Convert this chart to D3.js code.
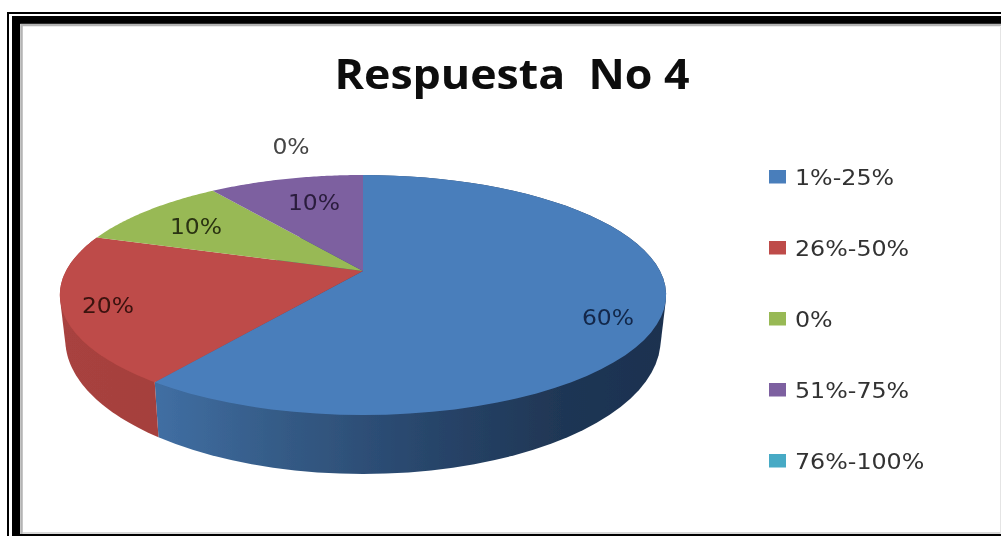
<!DOCTYPE html>
<html><head><meta charset="utf-8">
<script src="https://cdnjs.cloudflare.com/ajax/libs/d3/7.8.5/d3.min.js"></script>
<style>html,body{margin:0;padding:0;background:#fff;overflow:hidden}svg{display:block}</style>
</head><body><svg id="c" width="1001" height="536"></svg>
<script>
const chartTitle = "Respuesta  No 4";
const categories = ["1%-25%", "26%-50%", "0%", "51%-75%", "76%-100%"];
const values = [60, 20, 10, 10, 0];
const valueLabels = ["60%", "20%", "10%", "10%", "0%"];
const topColors = ["#4a7ebb", "#be4b48", "#98b954", "#7d60a0", "#46aac5"];

const svg = d3.select("#c");
const defs = svg.append("defs");
defs.append("filter").attr("id","soft").append("feGaussianBlur").attr("stdDeviation",0.5);

// frame
svg.append("rect").attr("x",8).attr("y",13).attr("width",1100).attr("height",1000).attr("fill","none").attr("stroke","#000").attr("stroke-width",2);
svg.append("rect").attr("x",16).attr("y",20).attr("width",1100).attr("height",1000).attr("fill","none").attr("stroke","#000").attr("stroke-width",8);
svg.append("rect").attr("x",21.5).attr("y",25).attr("width",1100).attr("height",1000).attr("fill","none").attr("stroke","#b4b4b4").attr("stroke-width",2.5);
svg.append("rect").attr("x",23).attr("y",532).attr("width",978).attr("height",2).attr("fill","#d8d8d8");
svg.append("rect").attr("x",12).attr("y",534).attr("width",989).attr("height",2).attr("fill","#000");
svg.append("rect").attr("x",1000).attr("y",27).attr("width",1).attr("height",507).attr("fill","#e4e4e4");

// pie in perspective: unit disc → picture
const cx = 363, apexY = 271;
const scaleX = d3.scaleLinear().domain([-1,1]).range([cx-297,cx+297]);
const scaleY = d3.scaleLinear().domain([-1,1]).range([apexY-61,apexY+61]);
const persp = -0.2;
const project = (a, r=1) => {
  const u = Math.sin(a)*r, v = -Math.cos(a)*r, w = 1+persp*v;
  return [cx+(scaleX(u)-cx)/w, scaleY(v)/w];
};
const bottomShrink = 0.982;
const lower = a => { const p = project(a); return [cx+(p[0]-cx)*bottomShrink, p[1]+59+(p[1]-415)*0.12]; };

const pie = d3.pie().value(d=>d).sort(null);
const arcs = pie(values);
const line = d3.line();
const rim = (a0,a1,f) => d3.range(0,61).map(i=>f(a0+(a1-a0)*i/60));

const sideStops = [
  [["0","#406ea2"],["0.25","#345a85"],["0.55","#274469"],["0.8","#1f3654"],["1","#1c3150"]],
  [["0","#a8423f"],["1","#a5403d"]]
];
const gradX = [[160,665],[60,165]];
sideStops.forEach((st,i)=>{
  const g = defs.append("linearGradient").attr("id","side"+i).attr("gradientUnits","userSpaceOnUse")
    .attr("x1",gradX[i][0]).attr("x2",gradX[i][1]).attr("y1",0).attr("y2",0);
  st.forEach(s=>g.append("stop").attr("offset",s[0]).attr("stop-color",s[1]));
});

const gPie = svg.append("g").attr("filter","url(#soft)");
gPie.selectAll("path.side").data(arcs.slice(0,2)).join("path").attr("class","side")
  .attr("fill",(d,i)=>`url(#side${i})`)
  .attr("d",d=>line(d3.polygonHull(rim(d.startAngle,d.endAngle,project).concat(rim(d.endAngle,d.startAngle,lower))))+"Z");
gPie.selectAll("path.top").data(arcs).join("path").attr("class","top")
  .attr("fill",(d,i)=>topColors[i])
  .attr("d",d=>line([[cx,apexY]].concat(rim(d.startAngle,d.endAngle,project)))+"Z");

// stretch helper: the reference text is horizontally stretched
const stretch = (sel,k) => sel.each(function(){
  const t = d3.select(this);
  t.attr("textLength",this.getComputedTextLength()*k).attr("lengthAdjust","spacingAndGlyphs");
});

// title
const font = "'DejaVu Sans', sans-serif";
svg.append("text").attr("x",512).attr("y",88.5).attr("text-anchor","middle")
  .attr("font-family","'Open Sans', sans-serif").attr("font-weight",700).attr("font-size",41)
  .attr("fill","#0a0a0a").attr("xml:space","preserve").style("white-space","pre")
  .attr("textLength",355).attr("lengthAdjust","spacingAndGlyphs").attr("filter","url(#soft)").text(chartTitle);

// value labels
const labelXY = [[608,325],[108,313],[196,234],[314,210],[291,154]];
const labelFill = ["#12284a","#3a1210","#2a3312","#2a1c3c","#444"];
svg.append("g").attr("filter","url(#soft)").selectAll("text").data(valueLabels).join("text")
  .attr("x",(d,i)=>labelXY[i][0]).attr("y",(d,i)=>labelXY[i][1]).attr("text-anchor","middle")
  .attr("font-family",font).attr("font-size",21.5).attr("fill",(d,i)=>labelFill[i]).text(d=>d).call(stretch,1.09);

// legend
const legY = d3.scalePoint().domain(categories).range([177,461]);
const leg = svg.append("g").attr("filter","url(#soft)").selectAll("g").data(categories).join("g");
leg.append("rect").attr("x",769).attr("y",d=>legY(d)-7).attr("width",17).attr("height",13.5).attr("fill",(d,i)=>topColors[i]);
leg.append("text").attr("x",795).attr("y",d=>legY(d)+7.5).attr("font-family",font).attr("font-size",22).attr("fill","#333").text(d=>d).call(stretch,1.08);
</script></body></html>
